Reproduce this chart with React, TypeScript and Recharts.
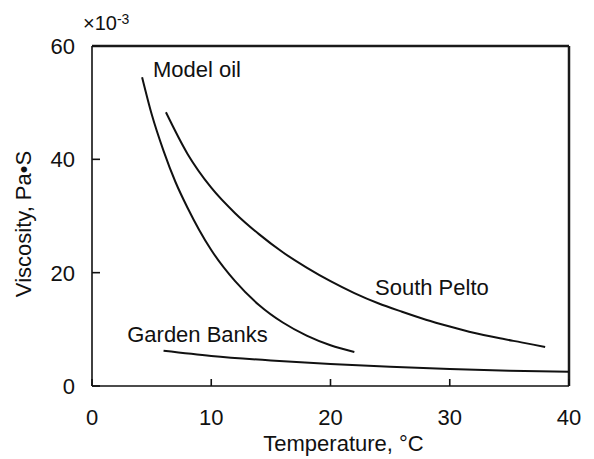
import React from 'react'
import { LineChart, Line, XAxis, YAxis, ReferenceDot, ReferenceLine, Label } from 'recharts'

// Viscosity (×10^-3 Pa·s) versus temperature (°C) for three oils
const modelOilTemp = [4.2, 5, 6, 7, 8, 9, 10, 12, 14, 16, 18, 20, 22]
const modelOilVisc = [54.5, 48, 41.5, 36, 31.5, 27.5, 24, 18.5, 14.3, 11.2, 8.9, 7.2, 6.0]

const southPeltoTemp = [6.2, 8, 10, 12, 14, 16, 18, 20, 22, 24, 26, 28, 30, 32, 34, 36, 38]
const southPeltoVisc = [48.3, 41.0, 35.0, 30.5, 26.8, 23.6, 20.9, 18.5, 16.4, 14.6, 13.1, 11.7, 10.5, 9.4, 8.5, 7.7, 6.9]

const gardenBanksTemp = [6, 10, 15, 20, 25, 30, 35, 40]
const gardenBanksVisc = [6.2, 5.3, 4.5, 3.9, 3.4, 3.0, 2.7, 2.5]

const xTicks = [0, 10, 20, 30, 40]
const yTicks = [0, 20, 40, 60]

const toPoints = (temps: number[], visc: number[]) => temps.map((t, i) => ({ t, v: visc[i] }))

const modelOil = toPoints(modelOilTemp, modelOilVisc)
const southPelto = toPoints(southPeltoTemp, southPeltoVisc)
const gardenBanks = toPoints(gardenBanksTemp, gardenBanksVisc)

const FONT = '"Liberation Sans", Arial, Helvetica, sans-serif'
const INK = '#111'
const SIZE = 22

const W = 594
const H = 459

// the chart fills the whole page
if (typeof document !== 'undefined') {
  document.body.style.margin = '0'
  document.body.style.overflow = 'hidden'
}

// ticks point inward from the axes
const XTick = ({ x, y, payload }: any) => (
  <g>
    <line x1={x} y1={y} x2={x} y2={y - 7} stroke={INK} strokeWidth={1.6} />
    <text x={x} y={y + 39} textAnchor="middle" fontFamily={FONT} fontSize={SIZE} fill={INK}>
      {payload.value}
    </text>
  </g>
)

const YTick = ({ x, y, payload }: any) => (
  <g>
    <line x1={x} y1={y} x2={x + 8} y2={y} stroke={INK} strokeWidth={1.6} />
    <text x={x - 17} y={y + 8} textAnchor="end" fontFamily={FONT} fontSize={SIZE} fill={INK}>
      {payload.value}
    </text>
  </g>
)

const seriesLabel = (text: string) => ({
  value: text,
  position: 'center' as const,
  fontFamily: FONT,
  fontSize: SIZE,
  fill: INK,
})

const frame = { stroke: INK, strokeWidth: 1.6 }

export default function App() {
  return (
    <div style={{ position: 'relative', width: W, height: H, background: '#fff' }}>
      <div
        style={{
          position: 'absolute',
          left: 83,
          top: 11,
          fontFamily: FONT,
          fontSize: 20,
          color: INK,
          lineHeight: '24px',
        }}
      >
        ×10<sup style={{ fontSize: 14, verticalAlign: 'top', position: 'relative', top: -4 }}>-3</sup>
      </div>
      <LineChart width={W} height={H} margin={{ top: 46, right: 25, bottom: 0, left: 0 }}>
        <XAxis
          dataKey="t"
          type="number"
          domain={[0, 40]}
          ticks={xTicks}
          height={73}
          tickSize={0}
          tickMargin={0}
          tickLine={false}
          tick={<XTick />}
          axisLine={frame}
        >
          <Label
            content={({ viewBox }: any) => (
              <text
                x={viewBox.x + viewBox.width / 2 + 13}
                y={451}
                textAnchor="middle"
                fontFamily={FONT}
                fontSize={SIZE}
                fill={INK}
              >
                Temperature, °C
              </text>
            )}
          />
        </XAxis>
        <YAxis
          type="number"
          domain={[0, 60]}
          ticks={yTicks}
          width={92}
          tickSize={0}
          tickMargin={0}
          tickLine={false}
          tick={<YTick />}
          axisLine={frame}
        >
          <Label
            content={() => (
              <text
                x={23}
                y={224}
                transform="rotate(-90 23 224)"
                textAnchor="middle"
                dominantBaseline="central"
                fontFamily={FONT}
                fontSize={SIZE}
                fill={INK}
              >
                Viscosity, Pa•S
              </text>
            )}
          />
        </YAxis>
        {/* top and right edges of the frame */}
        <ReferenceLine y={60} stroke="#1a1a1a" strokeWidth={2.5} ifOverflow="visible" />
        <ReferenceLine x={40} stroke="#1a1a1a" strokeWidth={2.5} ifOverflow="visible" />
        <Line data={modelOil} dataKey="v" type="monotone" stroke={INK} strokeWidth={2} dot={false} isAnimationActive={false} />
        <Line data={southPelto} dataKey="v" type="monotone" stroke={INK} strokeWidth={2} dot={false} isAnimationActive={false} />
        <Line data={gardenBanks} dataKey="v" type="monotone" stroke={INK} strokeWidth={2} dot={false} isAnimationActive={false} />
        <ReferenceDot x={8.8} y={55.9} r={0} stroke="none" label={seriesLabel('Model oil')} />
        <ReferenceDot x={28.5} y={17.5} r={0} stroke="none" label={seriesLabel('South Pelto')} />
        <ReferenceDot x={8.85} y={9.1} r={0} stroke="none" label={seriesLabel('Garden Banks')} />
      </LineChart>
    </div>
  )
}
